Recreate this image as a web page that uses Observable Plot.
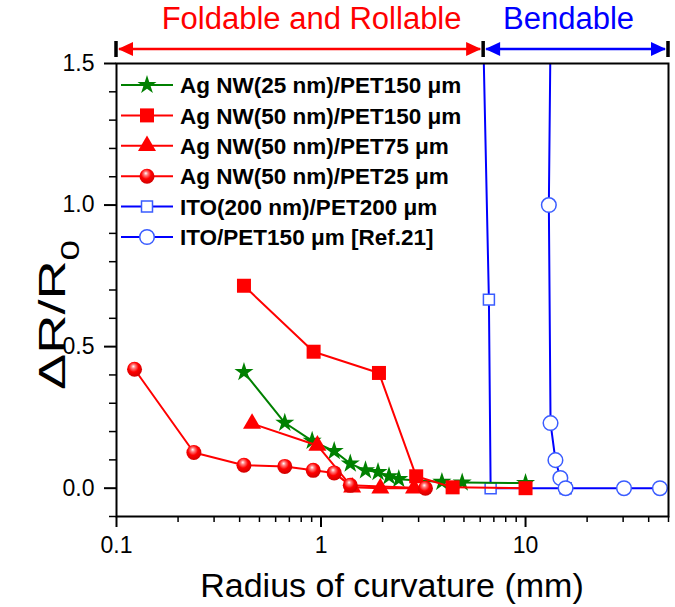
<!DOCTYPE html>
<html><head><meta charset="utf-8">
<script src="https://cdn.jsdelivr.net/npm/d3@7"></script>
<script src="https://cdn.jsdelivr.net/npm/@observablehq/plot@0.6"></script>
<style>
html,body{margin:0;padding:0;background:#fff;}
#chart{position:relative;width:675px;height:607px;}
</style></head><body><div id="chart"></div>
<script>
// ---------- data ----------
const seriesNames = [
  "Ag NW(25 nm)/PET150 μm",
  "Ag NW(50 nm)/PET150 μm",
  "Ag NW(50 nm)/PET75 μm",
  "Ag NW(50 nm)/PET25 μm",
  "ITO(200 nm)/PET200 μm",
  "ITO/PET150 μm [Ref.21]"
];
const starX = [0.42, 0.665, 0.905, 1.16, 1.39, 1.65, 1.90, 2.15, 2.40, 3.9, 4.9, 10];
const starY = [0.41, 0.231, 0.167, 0.131, 0.087, 0.063, 0.057, 0.042, 0.032, 0.022, 0.02, 0.018];
const sq50X = [0.42, 0.92, 1.92, 2.92, 4.4, 10];
const sq50Y = [0.715, 0.482, 0.407, 0.042, 0.003, 0.0];
const triX = [0.46, 0.96, 1.42, 1.95, 2.85];
const triY = [0.228, 0.151, 0.003, 0.0, 0.0];
const ballX = [0.1225, 0.239, 0.42, 0.665, 0.916, 1.16, 1.39, 3.24];
const ballY = [0.42, 0.126, 0.081, 0.077, 0.063, 0.054, 0.01, 0.0];
const itoSqX = [6.0, 6.62, 6.75, 10, 15.7];
const itoSqY = [2.1, 0.666, 0.0, 0.0, 0.0];
const itoCircX = [13.5, 13.0, 13.25, 14.0, 14.8, 15.7, 30.3, 45.4];
const itoCircY = [2.2, 1.0, 0.23, 0.099, 0.036, 0.0, 0.0, 0.0];

const xMajorTicks = [0.1, 1, 10];
const xTickLabels = ["0.1", "1", "10"];
const xMinorTicks = [0.2,0.3,0.4,0.5,0.6,0.7,0.8,0.9,2,3,4,5,6,7,8,9,20,30,40,50];
const yMajorTicks = [0, 0.5, 1.0, 1.5];
const yTickLabels = ["0.0", "0.5", "1.0", "1.5"];
const yMinorTicks = [-0.1,0.1,0.2,0.3,0.4,0.6,0.7,0.8,0.9,1.1,1.2,1.3,1.4];

const regionBounds = [0.1, 6.24, 50];
const regionLabels = ["Foldable and Rollable", "Bendable"];

const xLabel = "Radius of curvature (mm)";

// ---------- styles ----------
const FONT = '"Liberation Sans", Arial, Helvetica, sans-serif';
const RED = "#ff0000", GREEN = "#008000", BLUE = "#0000ff", LBLUE = "#3a5cff";
const rows = (xs, ys) => xs.map((x, i) => ({x, y: ys[i]}));

const series = [
  {key:"itoSq", data: rows(itoSqX, itoSqY), line: BLUE, symbol:"square", r:6.2, fill:"white", stroke:LBLUE, sw:1.5, leg:4},
  {key:"star", data: rows(starX, starY), line: GREEN, symbol:"star", r:6, fill:GREEN, stroke:"none", sw:0, leg:0},
  {key:"sq50", data: rows(sq50X, sq50Y), line: RED, symbol:"square", r:7.9, fill:RED, stroke:"none", sw:0, leg:1},
  {key:"tri", data: rows(triX, triY), line: RED, symbol:"triangle", r:6.7, fill:RED, stroke:"none", sw:0, leg:2},
  {key:"ball", data: rows(ballX, ballY), line: RED, symbol:"circle", r:7.5, fill:"url(#ball)", stroke:"none", sw:0, leg:3},
  {key:"itoC", data: rows(itoCircX, itoCircY), line: BLUE, symbol:"circle", r:7.3, fill:"white", stroke:LBLUE, sw:1.5, leg:5}
];

const marks = [];
for (const s of series) {
  marks.push(Plot.line(s.data, {x:"x", y:"y", stroke:s.line, strokeWidth:2, clip:true}));
  marks.push(Plot.dot(s.data, {x:"x", y:"y", symbol:s.symbol, r:s.r, fill:s.fill, stroke:s.stroke, strokeWidth:s.sw, clip:true}));
}

const plot = Plot.plot({
  width: 675, height: 607,
  marginTop: 63, marginBottom: 91, marginLeft: 116, marginRight: 7,
  style: {fontFamily: FONT, fontSize: "23px", background: "white", color: "black", overflow: "visible"},
  x: {type: "log", domain: [0.1, 50]},
  y: {domain: [-0.1, 1.5]},
  marks: [
    Plot.axisX(xMinorTicks, {tickSize: 6, tickFormat: () => "", strokeWidth: 1.5, label: null}),
    Plot.axisX(xMajorTicks, {tickSize: 11, tickPadding: 9, strokeWidth: 2, fontSize: 23, label: null,
      tickFormat: d => xTickLabels[xMajorTicks.indexOf(d)]}),
    Plot.axisY(yMinorTicks, {tickSize: 7, tickFormat: () => "", strokeWidth: 1.5, label: null}),
    Plot.axisY(yMajorTicks, {tickSize: 12, tickPadding: 10, strokeWidth: 2, fontSize: 23, label: null,
      tickFormat: d => yTickLabels[yMajorTicks.indexOf(d)]}),
    ...marks,
    Plot.frame({stroke: "black", strokeWidth: 2})
  ]
});
document.getElementById("chart").appendChild(plot);

// ---------- decorations ----------
const svg = d3.select(plot);
const defs = svg.insert("defs", ":first-child");
const grad = defs.append("radialGradient").attr("id", "ball")
  .attr("cx", "45%").attr("cy", "40%").attr("r", "60%").attr("fx", "42%").attr("fy", "30%");
grad.append("stop").attr("offset", "0%").attr("stop-color", "#ffffff");
grad.append("stop").attr("offset", "22%").attr("stop-color", "#ff8080");
grad.append("stop").attr("offset", "55%").attr("stop-color", "#ff0000");
grad.append("stop").attr("offset", "100%").attr("stop-color", "#d00000");

const xs = plot.scale("x");
const px = v => xs.apply(v);
const header = svg.append("g");
const aY = 49;
const regionColors = [RED, BLUE];
for (let i = 0; i < 2; i++) {
  const a = px(regionBounds[i]), b = px(regionBounds[i + 1]);
  const c = regionColors[i];
  header.append("line").attr("x1", a + 3).attr("x2", b - 3).attr("y1", aY).attr("y2", aY)
    .attr("stroke", c).attr("stroke-width", 2.5);
  header.append("path").attr("d", `M${a+2},${aY} L${a+17},${aY-7} L${a+17},${aY+7} Z`).attr("fill", c);
  header.append("path").attr("d", `M${b-2},${aY} L${b-17},${aY-7} L${b-17},${aY+7} Z`).attr("fill", c);
  header.append("text").attr("x", (a + b) / 2 + (i === 0 ? 12 : -7)).attr("y", 29)
    .attr("text-anchor", "middle").attr("fill", c)
    .style("font-family", FONT).style("font-size", "31px").text(regionLabels[i]);
}
for (const v of regionBounds) {
  header.append("line").attr("x1", px(v)).attr("x2", px(v)).attr("y1", 41).attr("y2", 57)
    .attr("stroke", "black").attr("stroke-width", 3.5);
}

// axis titles
svg.append("text").attr("x", 392).attr("y", 597).attr("text-anchor", "middle")
  .style("font-family", FONT).style("font-size", "34px").attr("fill", "black").text(xLabel);
const yl = svg.append("text").attr("transform", "translate(65,315) rotate(-90)")
  .attr("text-anchor", "middle").attr("textLength", 150).attr("lengthAdjust", "spacingAndGlyphs")
  .style("font-family", FONT).style("font-size", "37px").attr("fill", "black");
yl.append("tspan").text("ΔR/R");
yl.append("tspan").attr("baseline-shift", "sub").style("font-size", "25px").text("0");

// legend
const leg = svg.append("g");
const legY0 = 85, legDy = 30.4;
const legendOrder = [...series].sort((a, b) => a.leg - b.leg);
legendOrder.forEach((s, i) => {
  const y = legY0 + i * legDy;
  leg.append("line").attr("x1", 121).attr("x2", 173).attr("y1", y).attr("y2", y)
    .attr("stroke", s.line).attr("stroke-width", 2);
  const sym = {square: d3.symbolSquare, star: d3.symbolStar, triangle: d3.symbolTriangle, circle: d3.symbolCircle}[s.symbol];
  leg.append("path").attr("d", d3.symbol(sym, s.r * s.r * Math.PI)())
    .attr("transform", `translate(147,${y})`)
    .attr("fill", s.fill).attr("stroke", s.stroke).attr("stroke-width", s.sw);
  leg.append("text").attr("x", 180).attr("y", y).attr("dy", "0.36em").attr("text-anchor", "start")
    .style("font-family", FONT).style("font-size", "22.5px").style("font-weight", "bold")
    .attr("fill", "black").text(seriesNames[s.leg]);
});
</script>
</body></html>
